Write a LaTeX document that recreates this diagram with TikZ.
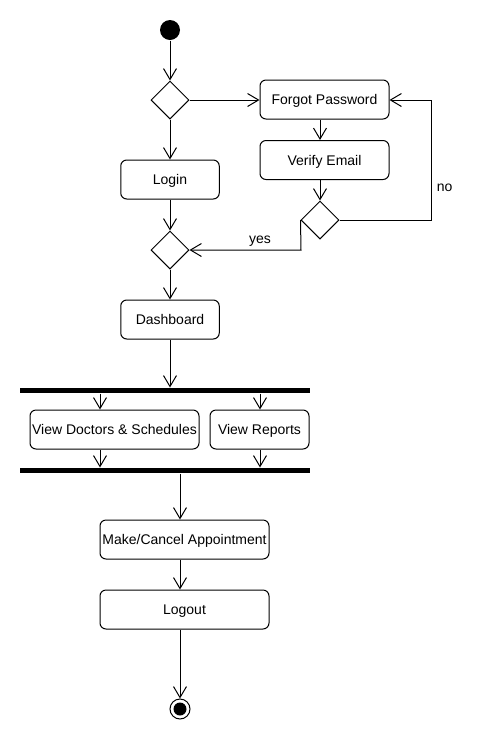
\documentclass[tikz,border=0pt]{standalone}
\usepackage{fontspec}
\setmainfont{Liberation Sans}
\usetikzlibrary{shapes.geometric,arrows.meta}
\begin{document}
\begin{tikzpicture}[x=1pt,y=-1pt,line width=1pt,
  font=\fontsize{14}{16}\selectfont,
  act/.style={draw,rounded corners=6pt,minimum height=39pt,inner sep=0pt,text depth=0pt,yshift=-1.5pt},
  dec/.style={draw,diamond,minimum width=38pt,minimum height=38pt,inner sep=0pt},
  bar/.style={fill=black,minimum width=290pt,minimum height=5pt,inner sep=0pt},
  arr/.style={-{Straight Barb[length=11pt,width=13pt,line width=1pt]}}]
\useasboundingbox (0,0) rectangle (480,740);
% nodes
\node[circle,fill=black,minimum size=20pt,inner sep=0pt] (start) at (170,30) {};
\node[dec] (d1) at (170,100) {};
\node[act,minimum width=129pt] (fp) at (324.5,98) {Forgot Password};
\node[act,minimum width=129pt] (ve) at (324.5,158.5) {Verify Email};
\node[dec] (d2) at (320,220) {};
\node[act,minimum width=98.5pt] (login) at (170,178) {Login};
\node[dec] (d3) at (170,250) {};
\node[act,minimum width=98.5pt] (dash) at (170,318) {Dashboard};
\node[bar] (b1) at (165,390.5) {};
\node[act,minimum width=169pt] (vd) at (114.5,428) {View Doctors \& Schedules};
\node[act,minimum width=99pt] (vr) at (259.5,428) {View Reports};
\node[bar] (b2) at (165,470.5) {};
\node[act,minimum width=169pt] (mc) at (184.5,538) {Make/Cancel Appointment};
\node[act,minimum width=169pt] (lo) at (184.5,608) {Logout};
\node[circle,draw,minimum size=20pt,inner sep=0pt] (end) at (180,709) {};
\node[circle,fill=black,minimum size=13pt,inner sep=0pt] (endin) at (180,709) {};
\coordinate (cx1) at (100,0);
\coordinate (cx2) at (260,0);
\coordinate (cx3) at (180,0);
\coordinate (nocorner1) at (431,220);
\coordinate (nocorner2) at (431,100);
\coordinate (yescorner) at (301,250);
% connectors
\draw[arr] (start) -- (d1.north);
\draw[arr] (d1.east) -- (fp.west |- d1.east);
\draw[arr] (fp.south -| d2) -- (ve.north -| d2);
\draw[arr] (ve.south -| d2) -- (d2.north);
\draw[arr] (d2.east) -- (nocorner1) -- (nocorner2) -- (fp.east |- nocorner2);
\node[anchor=west] (nolab) at (433,188) {no};
\draw[arr] (d2.west) -- (yescorner) -- (d3.east);
\node (yeslab) at (260,241) {yes};
\draw[arr] (d1.south) -- (login.north);
\draw[arr] (login.south) -- (d3.north);
\draw[arr] (d3.south) -- (dash.north);
\draw[arr] (dash.south) -- (b1.north -| dash.south);
\draw[arr] (b1.south -| cx1) -- (vd.north -| cx1);
\draw[arr] (b1.south -| cx2) -- (vr.north -| cx2);
\draw[arr] (vd.south -| cx1) -- (b2.north -| cx1);
\draw[arr] (vr.south -| cx2) -- (b2.north -| cx2);
\draw[arr] (b2.south -| cx3) -- (mc.north -| cx3);
\draw[arr] (mc.south -| cx3) -- (lo.north -| cx3);
\draw[arr] (lo.south -| cx3) -- (end.north);
\end{tikzpicture}
\end{document}
